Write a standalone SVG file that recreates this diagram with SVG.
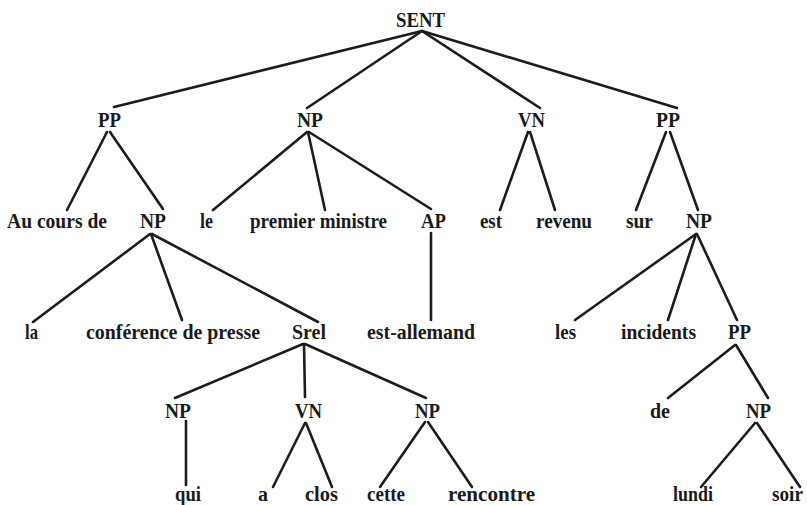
<svg xmlns="http://www.w3.org/2000/svg" width="807" height="505" viewBox="0 0 807 505">
<style>
.t{font-weight:bold;font-size:22px;fill:#1a1a1a}
.e{stroke:#1c1c1c;stroke-width:2.6;stroke-linecap:round;fill:none}
</style>
<rect width="807" height="505" fill="#ffffff"/>
<g id="connectors" class="e">
<line x1="422" y1="31" x2="114" y2="107"/>
<line x1="422" y1="31" x2="307" y2="108"/>
<line x1="422" y1="31" x2="540" y2="108"/>
<line x1="422" y1="31" x2="677" y2="108"/>
<line x1="107" y1="132" x2="67" y2="210"/>
<line x1="110" y1="132" x2="163" y2="209"/>
<line x1="307" y1="132" x2="213" y2="210"/>
<line x1="308" y1="132" x2="325" y2="210"/>
<line x1="309" y1="132" x2="431" y2="209"/>
<line x1="528" y1="132" x2="500" y2="210"/>
<line x1="530" y1="132" x2="555" y2="210"/>
<line x1="666" y1="132" x2="636" y2="210"/>
<line x1="670" y1="132" x2="698" y2="210"/>
<line x1="150" y1="234" x2="33" y2="322"/>
<line x1="151" y1="234" x2="182" y2="320"/>
<line x1="152" y1="234" x2="318" y2="322"/>
<line x1="431" y1="233" x2="431" y2="320"/>
<line x1="696" y1="234" x2="575" y2="320"/>
<line x1="696" y1="234" x2="668" y2="320"/>
<line x1="697" y1="234" x2="737" y2="320"/>
<line x1="303" y1="344" x2="175" y2="398"/>
<line x1="304" y1="344" x2="305" y2="397"/>
<line x1="305" y1="344" x2="426" y2="398"/>
<line x1="735" y1="345" x2="668" y2="398"/>
<line x1="736" y1="345" x2="768" y2="398"/>
<line x1="186" y1="421" x2="186" y2="485"/>
<line x1="305" y1="423" x2="273" y2="487"/>
<line x1="306" y1="423" x2="332" y2="487"/>
<line x1="425" y1="422" x2="380" y2="487"/>
<line x1="428" y1="422" x2="472" y2="487"/>
<line x1="755" y1="423" x2="701" y2="487"/>
<line x1="757" y1="423" x2="800" y2="487"/>
</g>
<g class="t" font-family="Liberation Serif, Times New Roman, serif">
<g id="n-sent"><text x="396" y="27" textLength="49" lengthAdjust="spacingAndGlyphs">SENT</text></g>
<g id="n-pp1"><text x="98" y="127" textLength="23" lengthAdjust="spacingAndGlyphs">PP</text></g>
<g id="n-np1"><text x="297" y="127" textLength="26" lengthAdjust="spacingAndGlyphs">NP</text></g>
<g id="n-vn1"><text x="518" y="127" textLength="27" lengthAdjust="spacingAndGlyphs">VN</text></g>
<g id="n-pp2"><text x="656" y="127" textLength="24" lengthAdjust="spacingAndGlyphs">PP</text></g>
<g id="n-aucoursde"><text x="7" y="228" textLength="100" lengthAdjust="spacingAndGlyphs">Au cours de</text></g>
<g id="n-np2"><text x="140" y="228" textLength="26" lengthAdjust="spacingAndGlyphs">NP</text></g>
<g id="n-le"><text x="200" y="228" textLength="13" lengthAdjust="spacingAndGlyphs">le</text></g>
<g id="n-premier"><text x="250" y="228" textLength="137" lengthAdjust="spacingAndGlyphs">premier ministre</text></g>
<g id="n-ap"><text x="421" y="228" textLength="25" lengthAdjust="spacingAndGlyphs">AP</text></g>
<g id="n-est"><text x="480" y="228" textLength="22" lengthAdjust="spacingAndGlyphs">est</text></g>
<g id="n-revenu"><text x="536" y="228" textLength="56" lengthAdjust="spacingAndGlyphs">revenu</text></g>
<g id="n-sur"><text x="626" y="228" textLength="27" lengthAdjust="spacingAndGlyphs">sur</text></g>
<g id="n-np3"><text x="686" y="228" textLength="26" lengthAdjust="spacingAndGlyphs">NP</text></g>
<g id="n-la"><text x="25" y="339" textLength="13" lengthAdjust="spacingAndGlyphs">la</text></g>
<g id="n-conference"><text x="86" y="339" textLength="174" lengthAdjust="spacingAndGlyphs">conférence de presse</text></g>
<g id="n-srel"><text x="292" y="339" textLength="34" lengthAdjust="spacingAndGlyphs">Srel</text></g>
<g id="n-estallemand"><text x="367" y="339" textLength="108" lengthAdjust="spacingAndGlyphs">est-allemand</text></g>
<g id="n-les"><text x="555" y="339" textLength="21" lengthAdjust="spacingAndGlyphs">les</text></g>
<g id="n-incidents"><text x="621" y="339" textLength="75" lengthAdjust="spacingAndGlyphs">incidents</text></g>
<g id="n-pp3"><text x="728" y="339" textLength="23" lengthAdjust="spacingAndGlyphs">PP</text></g>
<g id="n-np4"><text x="165" y="418" textLength="26" lengthAdjust="spacingAndGlyphs">NP</text></g>
<g id="n-vn2"><text x="295" y="418" textLength="27" lengthAdjust="spacingAndGlyphs">VN</text></g>
<g id="n-np5"><text x="415" y="418" textLength="25" lengthAdjust="spacingAndGlyphs">NP</text></g>
<g id="n-de"><text x="650" y="418" textLength="20" lengthAdjust="spacingAndGlyphs">de</text></g>
<g id="n-np6"><text x="746" y="418" textLength="25" lengthAdjust="spacingAndGlyphs">NP</text></g>
<g id="n-qui"><text x="175" y="501" textLength="26" lengthAdjust="spacingAndGlyphs">qui</text></g>
<g id="n-a"><text x="258" y="501" textLength="10" lengthAdjust="spacingAndGlyphs">a</text></g>
<g id="n-clos"><text x="305" y="501" textLength="33" lengthAdjust="spacingAndGlyphs">clos</text></g>
<g id="n-cette"><text x="367" y="501" textLength="38" lengthAdjust="spacingAndGlyphs">cette</text></g>
<g id="n-rencontre"><text x="448" y="501" textLength="87" lengthAdjust="spacingAndGlyphs">rencontre</text></g>
<g id="n-lundi"><text x="673" y="501" textLength="40" lengthAdjust="spacingAndGlyphs">lundi</text></g>
<g id="n-soir"><text x="772" y="501" textLength="31" lengthAdjust="spacingAndGlyphs">soir</text></g>
</g>
</svg>
